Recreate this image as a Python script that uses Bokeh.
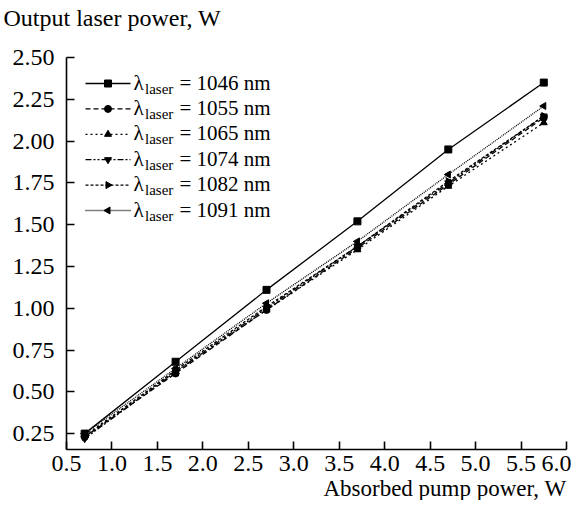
import math
from bokeh.plotting import figure
from bokeh.models import Range1d, FixedTicker, NumeralTickFormatter, Title
from bokeh.core.properties import value
from bokeh.embed import file_html
from bokeh.resources import INLINE

# ---- data ----
pump = [0.7, 1.7, 2.7, 3.7, 4.7, 5.75]
p1046 = [0.25, 0.68, 1.11, 1.52, 1.95, 2.35]
p1055 = [0.23, 0.61, 0.99, 1.36, 1.74, 2.14]
p1065 = [0.24, 0.62, 0.99, 1.35, 1.73, 2.11]
p1074 = [0.22, 0.62, 1.00, 1.37, 1.75, 2.15]
p1082 = [0.23, 0.63, 1.01, 1.37, 1.76, 2.15]
p1091 = [0.25, 0.64, 1.03, 1.40, 1.80, 2.21]
wavelengths = ["1046", "1055", "1065", "1074", "1082", "1091"]
x_ticks = [0.5, 1.0, 1.5, 2.0, 2.5, 3.0, 3.5, 4.0, 4.5, 5.0, 5.5, 6.0]
y_ticks = [0.25, 0.50, 0.75, 1.00, 1.25, 1.50, 1.75, 2.00, 2.25, 2.50]
x_title = "Absorbed pump power, W"
y_title = "Output laser power, W"

series = [p1046, p1055, p1065, p1074, p1082, p1091]
styles = [
    ("solid", "square", 0.0),
    ("5 3", "circle", 0.0),
    ("2 3", "triangle", 0.0),
    ("6 2 2 2 2 2", "inverted_triangle", 0.0),
    ("3 2", "triangle", -math.pi / 2),
    ("1 1", "triangle", math.pi / 2),
]

FONT = "Liberation Serif"
W, H = 571, 500
BL, BR, BT, BB = 66, 5, 30, 40
X0, X1, Y0, Y1 = 0.5, 6.0, 0.155, 2.6616
Y_AXIS_TOP = 2.5

p = figure(width=W, height=H, output_backend="svg", toolbar_location=None,
           x_range=Range1d(X0, X1), y_range=Range1d(Y0, Y1),
           min_border_left=BL, min_border_right=BR, min_border_top=BT, min_border_bottom=BB)
p.outline_line_color = None
p.grid.visible = False
p.background_fill_color = "white"
p.border_fill_color = "white"

for ax in (p.xaxis[0], p.yaxis[0]):
    ax.major_label_text_font = FONT
    ax.major_label_text_font_size = "24px"
    ax.major_label_text_color = "black"
    ax.axis_line_width = 1.6
    ax.axis_line_color = "black"
    ax.major_tick_line_color = "black"
    ax.major_tick_line_width = 1.6
    ax.major_tick_in = 8
    ax.major_tick_out = 0
    ax.minor_tick_line_color = None
p.xaxis.ticker = FixedTicker(ticks=x_ticks)
p.yaxis.ticker = FixedTicker(ticks=y_ticks)
p.yaxis.bounds = (Y0, Y_AXIS_TOP)
p.xaxis.formatter = NumeralTickFormatter(format="0.0")
p.yaxis.formatter = NumeralTickFormatter(format="0.00")
p.xaxis.major_label_standoff = 6
p.yaxis.major_label_standoff = 12

for ys, (dash, mk, ang) in zip(series, styles):
    p.line(pump, ys, line_color="black", line_width=1.3, line_dash=dash)
    p.scatter(pump, ys, marker=mk, angle=ang, size=7, fill_color="black", line_color="black")

# ---- legend drawn by hand (pixel layout converted to data coordinates) ----
FW_EST, FH_EST = 500, 419

def dx(px):
    return X0 + px / FW_EST * (X1 - X0)

def dy(py):
    return Y1 - py / FH_EST * (Y1 - Y0)

for i, (wl, (dash, mk, ang)) in enumerate(zip(wavelengths, styles)):
    ry = dy(53 + i * 25.4)
    p.line([dx(19), dx(64)], [ry, ry], line_color="black", line_width=1.3, line_dash=dash)
    p.scatter([dx(41.5)], [ry], marker=mk, angle=ang, size=7, fill_color="black", line_color="black")
    p.text([dx(67)], [ry], text=["λ"], text_font=value(FONT), text_font_size="21px",
           text_baseline="middle", text_color="black", y_offset=-1)
    p.text([dx(67)], [ry], text=["laser"], text_font=value(FONT), text_font_size="15px",
           text_baseline="middle", text_color="black", x_offset=11.5, y_offset=5)
    p.text([dx(67)], [ry], text=["= " + wl + " nm"], text_font=value(FONT), text_font_size="21px",
           text_baseline="middle", text_color="black", x_offset=46, y_offset=-1)

p.add_layout(Title(text=y_title, align="left", vertical_align="bottom", offset=-63, standoff=0,
                   text_font=FONT, text_font_size="24px", text_font_style="normal",
                   text_color="black"), "above")
p.add_layout(Title(text=x_title, align="right", standoff=0, text_font=FONT,
                   text_font_size="23px", text_font_style="normal", text_color="black"), "below")

open("out.html", "w").write(file_html(p, INLINE))
